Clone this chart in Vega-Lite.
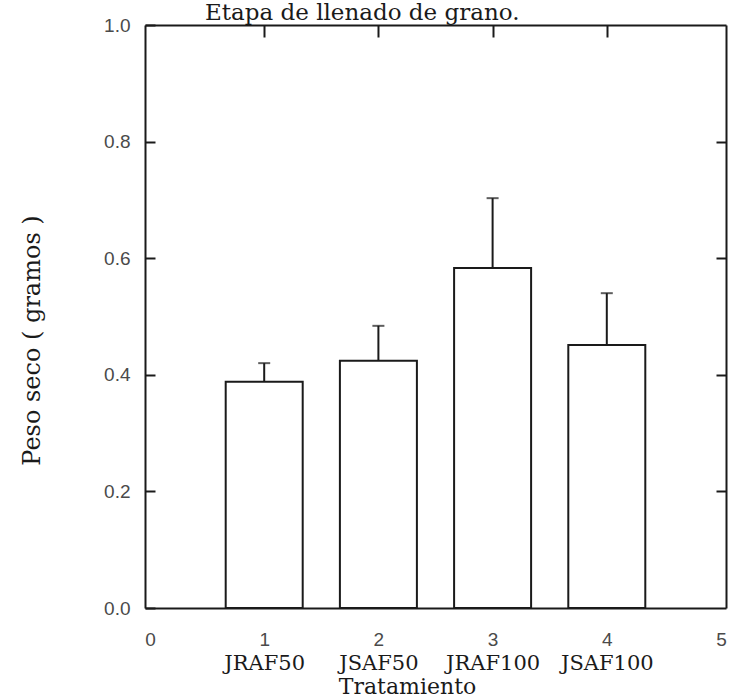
{
  "$schema": "https://vega.github.io/schema/vega-lite/v6.json",
  "width": 581,
  "height": 583,
  "autosize": {"type": "none"},
  "padding": {"left": 145, "top": 25, "right": 3, "bottom": 90},
  "background": "white",
  "title": {
    "text": "Etapa de llenado de grano.",
    "font": "DejaVu Serif",
    "fontSize": 23,
    "fontWeight": "normal",
    "color": "#1a1a1a",
    "anchor": "start",
    "frame": "group",
    "dx": 60,
    "offset": -9
  },
  "data": {
    "values": [
      {"trat": "JRAF50", "pos": 1, "mean": 0.388, "upper": 0.420},
      {"trat": "JSAF50", "pos": 2, "mean": 0.424, "upper": 0.484},
      {"trat": "JRAF100", "pos": 3, "mean": 0.583, "upper": 0.703},
      {"trat": "JSAF100", "pos": 4, "mean": 0.451, "upper": 0.540}
    ]
  },
  "config": {
    "view": {"stroke": null},
    "axis": {
      "grid": false,
      "domainColor": "#1a1a1a",
      "domainWidth": 2,
      "tickColor": "#1a1a1a",
      "tickWidth": 2
    }
  },
  "layer": [
    {
      "mark": {"type": "bar", "width": 77, "fill": "white", "stroke": "#1a1a1a", "strokeWidth": 2},
      "encoding": {
        "x": {
          "field": "pos",
          "type": "quantitative",
          "scale": {"domain": [0, 5], "nice": false, "zero": false},
          "axis": {
            "orient": "bottom",
            "values": [0, 1, 2, 3, 4, 5],
            "format": "d",
            "ticks": false,
            "domain": false,
            "labelFlush": false,
            "labelPadding": 22,
            "labelFont": "Liberation Sans",
            "labelFontSize": 19,
            "labelColor": "#4a4a4a",
            "title": null
          }
        },
        "y": {
          "field": "mean",
          "type": "quantitative",
          "scale": {"domain": [0, 1], "nice": false},
          "axis": {
            "orient": "left",
            "values": [0, 0.2, 0.4, 0.6, 0.8, 1.0],
            "format": ".1f",
            "tickSize": -10,
            "labelFlush": false,
            "labelPadding": 25,
            "labelFont": "Liberation Sans",
            "labelFontSize": 19,
            "labelColor": "#4a4a4a",
            "title": "Peso seco ( gramos )",
            "titleFont": "DejaVu Serif",
            "titleFontSize": 24,
            "titleFontWeight": "normal",
            "titleColor": "#1a1a1a",
            "titleAngle": -90,
            "titleAlign": "center",
            "titleBaseline": "middle",
            "titleX": -113,
            "titleY": 315
          }
        }
      }
    },
    {
      "mark": {"type": "rule", "stroke": "#1a1a1a", "strokeWidth": 2},
      "encoding": {
        "x": {
          "field": "pos",
          "type": "quantitative",
          "axis": {
            "orient": "bottom",
            "values": [1, 2, 3, 4],
            "labelExpr": "['', 'JRAF50', 'JSAF50', 'JRAF100', 'JSAF100', ''][datum.value]",
            "ticks": true,
            "tickSize": -12,
            "domain": true,
            "labelFlush": false,
            "labelPadding": 56,
            "labelFont": "DejaVu Serif",
            "labelFontSize": 21,
            "labelColor": "#1a1a1a",
            "title": "Tratamiento",
            "titleFont": "DejaVu Serif",
            "titleFontSize": 22,
            "titleFontWeight": "normal",
            "titleColor": "#1a1a1a",
            "titleAnchor": "start",
            "titleAlign": "center",
            "titleBaseline": "middle",
            "titleX": 262,
            "titleY": 78
          }
        },
        "y": {
          "field": "mean",
          "type": "quantitative",
          "axis": {
            "orient": "right",
            "values": [0.2, 0.4, 0.6, 0.8],
            "labels": false,
            "tickSize": -10,
            "title": null
          }
        },
        "y2": {"field": "upper"}
      }
    },
    {
      "mark": {"type": "tick", "orient": "horizontal", "size": 12, "thickness": 2, "color": "#1a1a1a"},
      "encoding": {
        "x": {
          "field": "pos",
          "type": "quantitative",
          "axis": {
            "orient": "top",
            "values": [1, 2, 3, 4],
            "labels": false,
            "tickSize": -12,
            "title": null
          }
        },
        "y": {"field": "upper", "type": "quantitative", "axis": null}
      }
    }
  ],
  "resolve": {"axis": {"x": "independent", "y": "independent"}}
}
